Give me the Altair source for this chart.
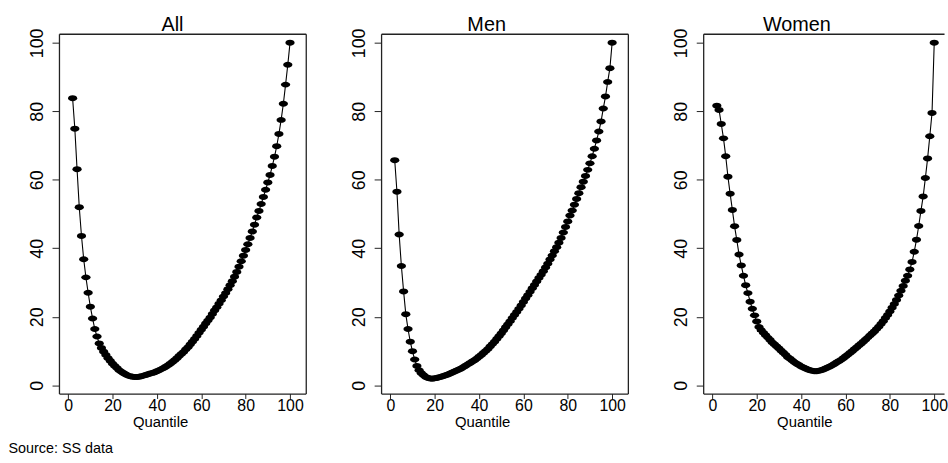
import altair as alt
import pandas as pd

# ---- data ----
quantile = list(range(2, 101))

all_share = [
    83.8, 74.9, 63.1, 52.0, 43.6, 36.8, 31.5, 27.0, 22.9, 19.5,   # 2-11
    16.4, 14.2, 12.2, 10.9, 9.8, 8.8, 7.9, 7.1, 6.3, 5.6,         # 12-21
    5.0, 4.4, 3.9, 3.5, 3.1, 2.8, 2.6, 2.5, 2.4, 2.4,             # 22-31
    2.5, 2.6, 2.8, 3.0, 3.2, 3.4, 3.6, 3.8, 4.1, 4.4,             # 32-41
    4.7, 5.0, 5.4, 5.8, 6.3, 6.8, 7.3, 7.9, 8.5, 9.1,             # 42-51
    9.7, 10.4, 11.1, 11.9, 12.7, 13.5, 14.4, 15.3, 16.2, 17.1,    # 52-61
    18.0, 18.9, 19.8, 20.8, 21.8, 22.8, 23.8, 24.8, 25.9, 26.9,   # 62-71
    28.0, 29.2, 30.4, 31.7, 33.1, 34.6, 36.2, 37.8, 39.5, 41.2,   # 72-81
    43.0, 44.9, 46.9, 49.0, 50.9, 52.9, 55.0, 57.1, 59.2, 61.4,   # 82-91
    64.0, 66.7, 69.8, 73.4, 77.5, 82.2, 87.8, 93.6, 100.0,        # 92-100
]

men_share = [
    65.7, 56.5, 44.0, 34.8, 27.4, 20.7, 16.4, 12.7, 9.9, 7.5,
    5.6, 4.4, 3.5, 2.9, 2.4, 2.1, 1.95, 1.9, 2.0, 2.1,
    2.3, 2.5, 2.7, 2.9, 3.1, 3.4, 3.7, 4.0, 4.3, 4.6,
    4.9, 5.3, 5.7, 6.1, 6.5, 6.9, 7.3, 7.8, 8.3, 8.8,
    9.4, 10.0, 10.6, 11.3, 12.0, 12.7, 13.5, 14.3, 15.1, 16.0,
    16.9, 17.8, 18.7, 19.6, 20.5, 21.4, 22.3, 23.3, 24.3, 25.3,
    26.3, 27.3, 28.3, 29.3, 30.3, 31.3, 32.3, 33.3, 34.4, 35.5,
    36.7, 37.9, 39.1, 40.3, 41.6, 43.0, 44.6, 46.2, 47.8, 49.6,
    51.0, 52.7, 54.4, 56.1, 57.8, 59.4, 61.1, 62.9, 64.8, 66.9,
    69.1, 71.5, 74.1, 77.0, 80.8, 84.3, 88.6, 92.6, 100.0,
]

women_share = [
    81.6, 80.4, 76.3, 72.1, 66.9, 60.9, 55.9, 51.2, 46.4, 42.4,
    38.2, 35.0, 32.0, 29.2, 26.9, 24.4, 22.3, 20.4, 18.6, 17.0,
    16.1, 15.3, 14.6, 13.9, 13.2, 12.5, 11.9, 11.3, 10.7, 10.1,
    9.5, 8.9, 8.2, 7.7, 7.2, 6.7, 6.3, 5.9, 5.5, 5.2,
    4.9, 4.6, 4.4, 4.2, 4.1, 4.1, 4.2, 4.4, 4.6, 4.9,
    5.2, 5.5, 5.8, 6.2, 6.6, 7.0, 7.4, 7.9, 8.4, 8.9,
    9.4, 9.9, 10.5, 11.0, 11.6, 12.1, 12.7, 13.3, 13.9, 14.5,
    15.1, 15.7, 16.4, 17.1, 17.9, 18.7, 19.6, 20.5, 21.5, 22.6,
    23.7, 24.9, 26.2, 27.6, 29.0, 30.5, 32.0, 33.8, 36.0, 39.0,
    42.5, 46.5, 50.9, 55.1, 60.5, 66.2, 72.7, 79.5, 100.0,
]

panel_names = ["All", "Men", "Women"]
x_ticks = [0, 20, 40, 60, 80, 100]
y_ticks = [0, 20, 40, 60, 80, 100]
x_title = "Quantile"
source_note = "Source: SS data"

# ---- styling ----
FONT = "Liberation Sans, Arial, sans-serif"
FRAME = "#222222"
ELLIPSE = "M-1,0A1,0.65,0,1,1,1,0A1,0.65,0,1,1,-1,0Z"
PX_PER_UNIT = 249 / 111.25
X_MIN = -4.15
Y_DOMAIN = [-2.43, 102.66]
HEIGHT = 363


def panel(name, values, width, title_dx, right_frame=True):
    df = pd.DataFrame({"Quantile": quantile, "Value": values})
    xscale = alt.Scale(domain=[X_MIN, X_MIN + width / PX_PER_UNIT], nice=False, zero=False)
    yscale = alt.Scale(domain=Y_DOMAIN, nice=False, zero=False)

    x_main = alt.X(
        "Quantile:Q", scale=xscale,
        axis=alt.Axis(
            orient="bottom", values=x_ticks, title=x_title, grid=False,
            domain=True, domainColor=FRAME, domainWidth=1.3,
            tickSize=5, tickColor=FRAME, tickWidth=1,
            labelFont=FONT, labelFontSize=16, labelColor="black",
            labelPadding=-1, labelFlush=False, labelOverlap=False,
            titleFont=FONT, titleFontSize=15, titleFontWeight="normal",
            titleColor="black", titleX=102, titleY=33,
            titleBaseline="alphabetic", titleAlign="center",
        ),
    )
    y_main = alt.Y(
        "Value:Q", scale=yscale,
        axis=alt.Axis(
            orient="left", values=y_ticks, title=None, grid=False,
            domain=True, domainColor=FRAME, domainWidth=1.3,
            tickSize=7, tickColor=FRAME, tickWidth=1,
            labelAngle=270, labelAlign="center", labelBaseline="alphabetic",
            labelPadding=10, labelFont=FONT, labelFontSize=18,
            labelColor="black", labelFlush=False, labelOverlap=False,
        ),
    )
    x_top = alt.X(
        "Quantile:Q", scale=xscale,
        axis=alt.Axis(orient="top", domain=True, domainColor=FRAME, domainWidth=1.3,
                      ticks=False, labels=False, title=None, grid=False),
    )
    if right_frame:
        y_right = alt.Y(
            "Value:Q", scale=yscale,
            axis=alt.Axis(orient="right", domain=True, domainColor=FRAME, domainWidth=1.3,
                          ticks=False, labels=False, title=None, grid=False),
        )
    else:
        y_right = alt.Y("Value:Q", scale=yscale, axis=None)

    line = alt.Chart(df).mark_line(color="black", strokeWidth=1.1).encode(x=x_main, y=y_main)
    pts = alt.Chart(df).mark_point(
        shape=ELLIPSE, filled=True, size=86, color="black", opacity=1
    ).encode(x=x_top, y=y_right)

    return (
        alt.layer(line, pts)
        .resolve_axis(x="independent", y="independent")
        .properties(
            width=width, height=HEIGHT,
            title=alt.TitleParams(
                name, font=FONT, fontSize=20, fontWeight="normal", color="black",
                baseline="alphabetic", anchor="middle", frame="group", offset=-23, dx=title_dx,
            ),
        )
    )


p_all = panel(panel_names[0], all_share, 249, -10)
p_men = panel(panel_names[1], men_share, 249, -18)
p_women = panel(panel_names[2], women_share, 243, -27, right_frame=False)

chart = (
    alt.hconcat(p_all, p_men, p_women, spacing=45)
    .properties(
        padding={"left": 8.5, "top": 13, "right": 0, "bottom": 0},
        background="white",
        title=alt.TitleParams(
            source_note, orient="bottom", anchor="start", font=FONT, fontSize=14.5,
            fontWeight="normal", color="black", dx=-20, offset=13, baseline="top",
        ),
    )
    .configure_view(stroke=None)
)

chart.save("out.html", embed_options={"renderer": "svg", "actions": False})
